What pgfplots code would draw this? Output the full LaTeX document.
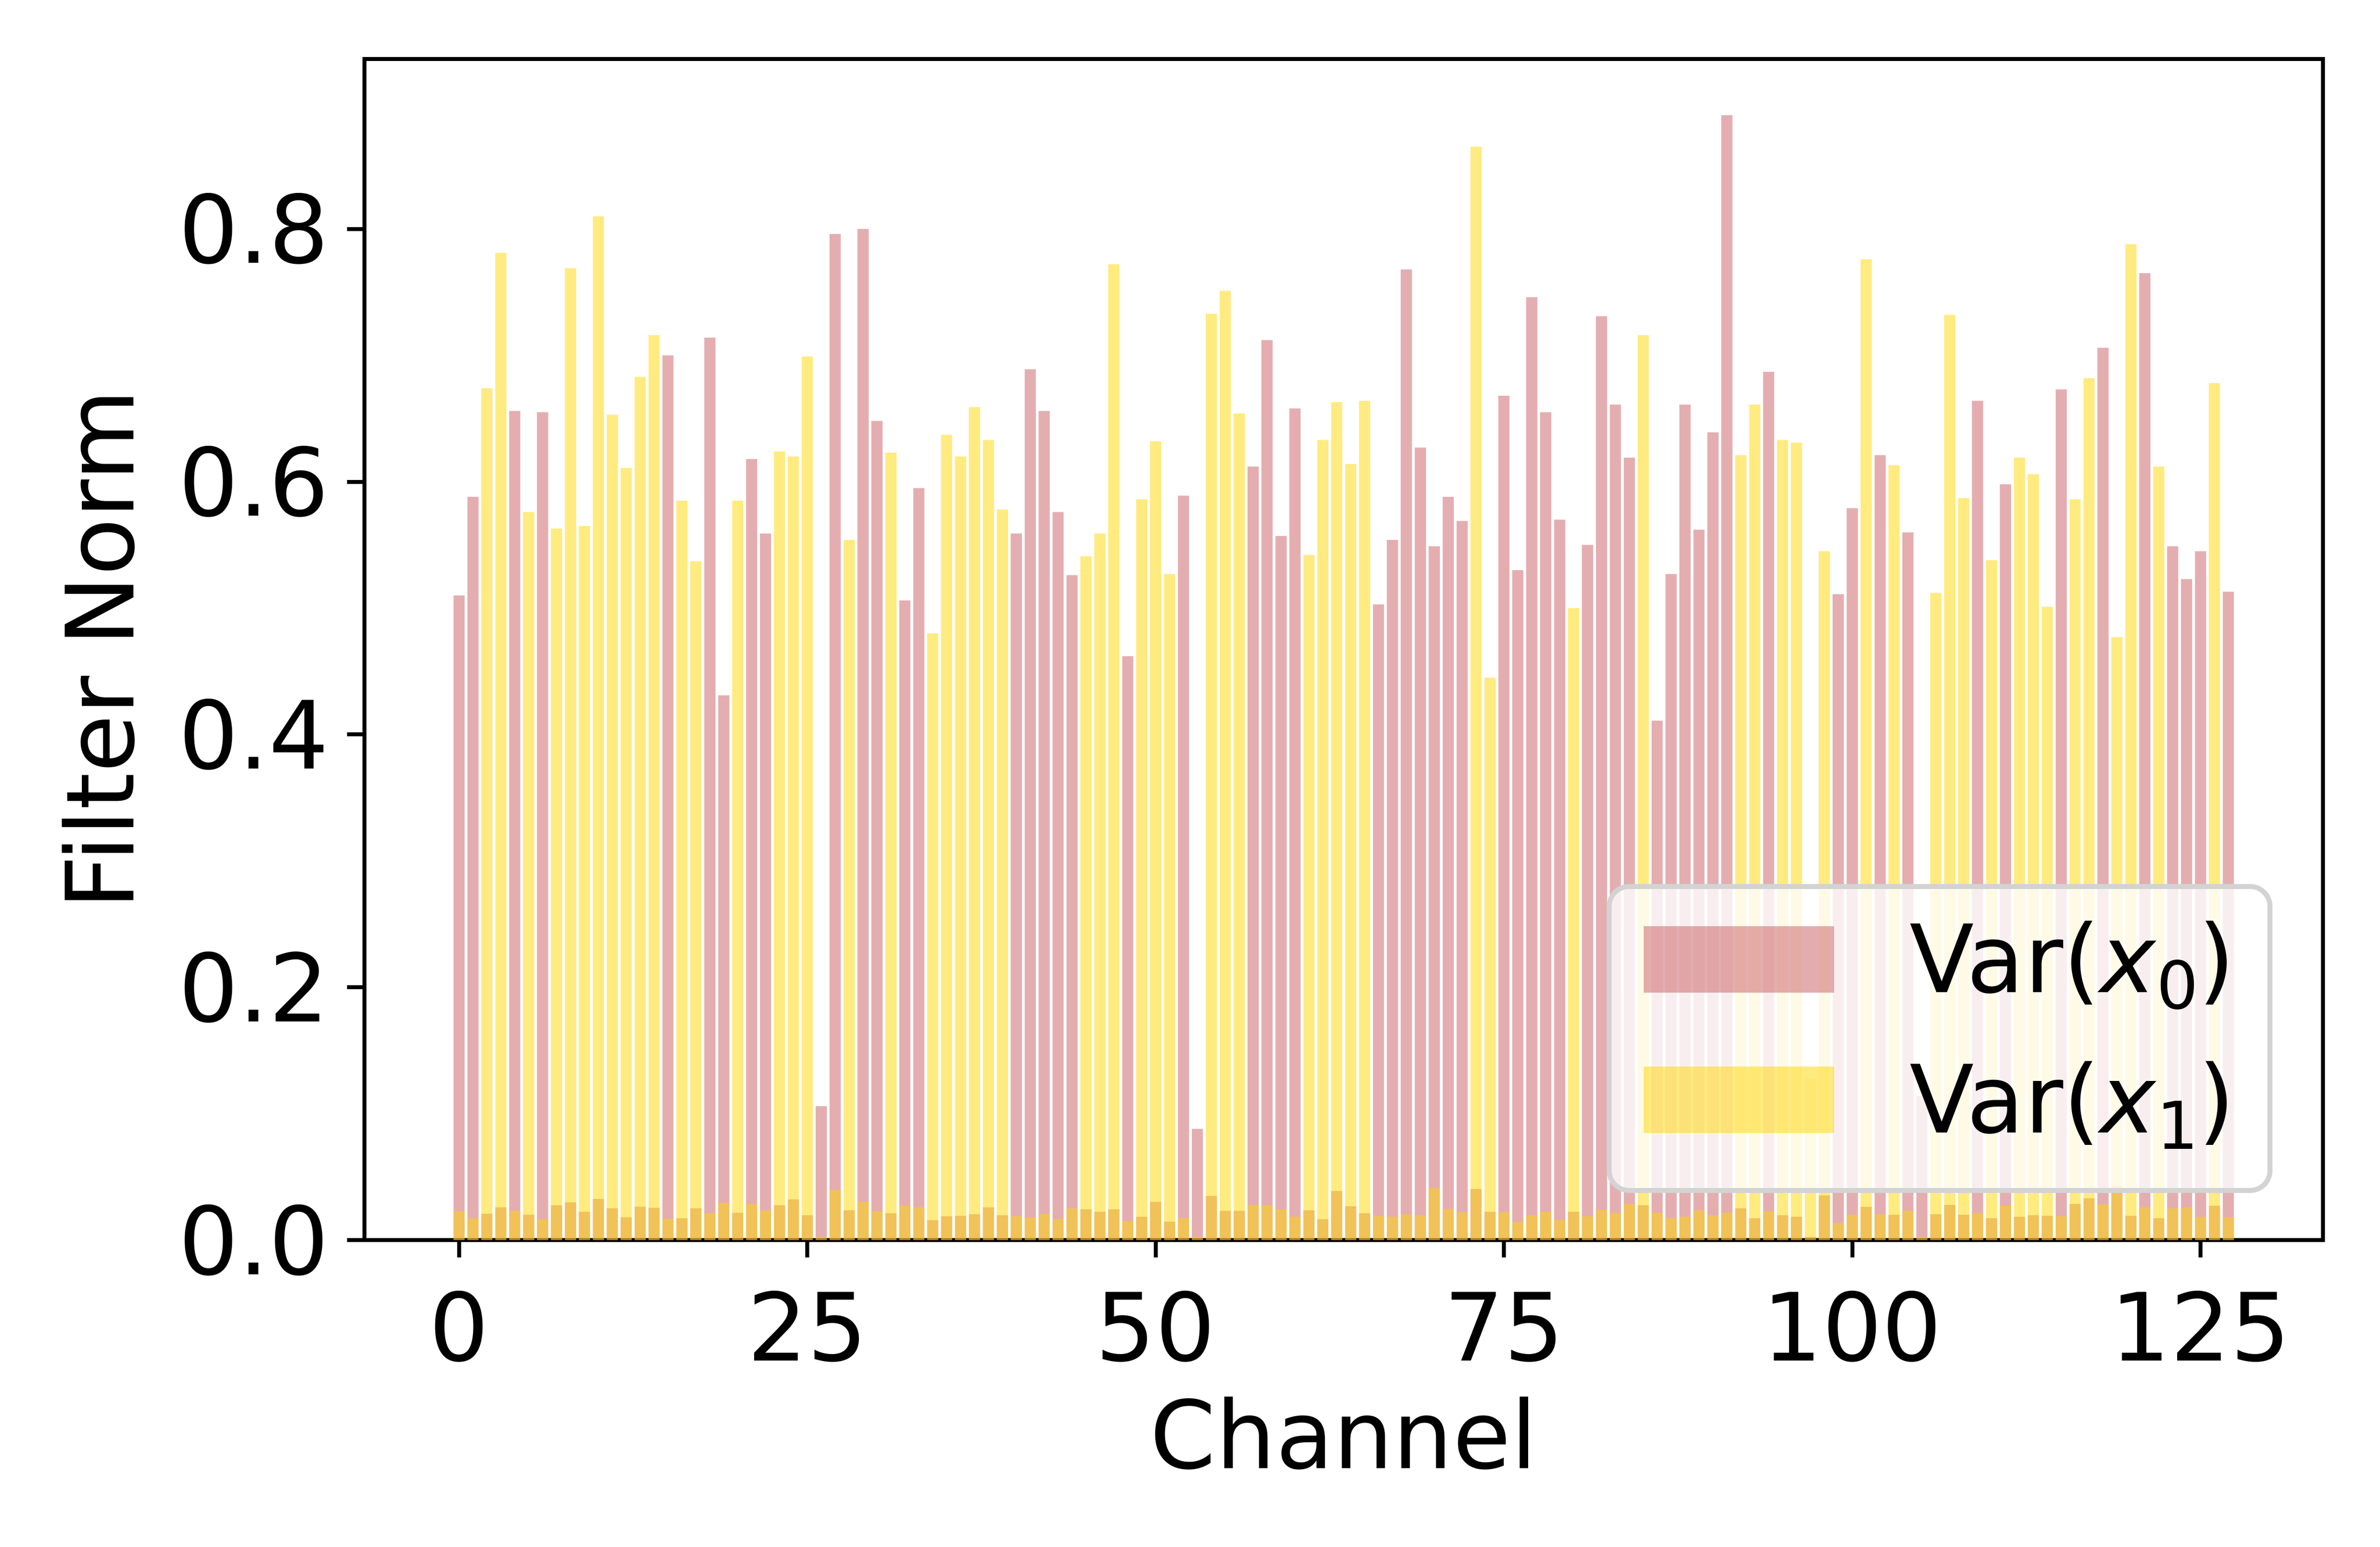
\documentclass[border=0pt]{standalone}
\usepackage{pgfplots}
\usepackage{pgfplotstable}
\pgfplotsset{compat=1.18}
\usepackage{fontspec}
\setmainfont{DejaVu Sans}
\definecolor{pinkc}{RGB}{201,93,97}
\definecolor{goldc}{RGB}{255,215,0}
\definecolor{legframe}{RGB}{211,211,211}

\pgfplotstableread{
ch v0 v1
0 0.510 0.0227
1 0.588 0.0173
2 0.0208 0.674
3 0.0259 0.781
4 0.656 0.0231
5 0.0200 0.576
6 0.655 0.0165
7 0.0275 0.563
8 0.0298 0.769
9 0.0224 0.565
10 0.0325 0.810
11 0.0251 0.653
12 0.0180 0.611
13 0.0263 0.683
14 0.0255 0.716
15 0.700 0.0169
16 0.0173 0.585
17 0.0251 0.537
18 0.714 0.0212
19 0.431 0.0294
20 0.0216 0.585
21 0.618 0.0286
22 0.559 0.0235
23 0.0275 0.624
24 0.0322 0.620
25 0.0196 0.699
26 0.106 0.0024
27 0.796 0.0396
28 0.0235 0.554
29 0.800 0.0302
30 0.648 0.0227
31 0.0212 0.623
32 0.506 0.0271
33 0.595 0.0260
34 0.0157 0.480
35 0.0188 0.637
36 0.0192 0.620
37 0.0204 0.659
38 0.0259 0.633
39 0.0196 0.578
40 0.559 0.0188
41 0.689 0.0180
42 0.656 0.0207
43 0.576 0.0167
44 0.526 0.0251
45 0.0243 0.541
46 0.0224 0.559
47 0.0243 0.772
48 0.462 0.0149
49 0.0184 0.586
50 0.0302 0.632
51 0.0145 0.527
52 0.589 0.0175
53 0.088 0.0024
54 0.0349 0.733
55 0.0231 0.751
56 0.0231 0.654
57 0.612 0.0277
58 0.712 0.0275
59 0.557 0.0243
60 0.658 0.0184
61 0.0235 0.542
62 0.0165 0.633
63 0.0388 0.663
64 0.0267 0.614
65 0.0212 0.664
66 0.503 0.0191
67 0.554 0.0184
68 0.768 0.0204
69 0.627 0.0196
70 0.549 0.0412
71 0.588 0.0246
72 0.569 0.0220
73 0.0404 0.865
74 0.0224 0.445
75 0.668 0.0220
76 0.530 0.0145
77 0.746 0.0196
78 0.655 0.0224
79 0.570 0.0159
80 0.0224 0.500
81 0.550 0.0188
82 0.731 0.0239
83 0.661 0.0216
84 0.619 0.0286
85 0.0275 0.716
86 0.411 0.0216
87 0.527 0.0173
88 0.661 0.0184
89 0.562 0.0235
90 0.639 0.0196
91 0.890 0.0216
92 0.0251 0.621
93 0.0173 0.661
94 0.687 0.0227
95 0.0196 0.633
96 0.0184 0.631
97 0.0024 0.128
98 0.0353 0.545
99 0.511 0.0133
100 0.579 0.0200
101 0.0263 0.776
102 0.621 0.0204
103 0.0200 0.613
104 0.560 0.0231
105 0.114 0.0024
106 0.0204 0.512
107 0.0278 0.732
108 0.0200 0.587
109 0.664 0.0212
110 0.0173 0.538
111 0.598 0.0271
112 0.0184 0.619
113 0.0196 0.606
114 0.0192 0.501
115 0.673 0.0188
116 0.0286 0.586
117 0.0331 0.682
118 0.706 0.0282
119 0.0427 0.477
120 0.0192 0.788
121 0.765 0.0259
122 0.0173 0.612
123 0.549 0.0251
124 0.523 0.0259
125 0.545 0.0184
126 0.0271 0.678
127 0.513 0.0180
}\datatable

\begin{document}
\begin{tikzpicture}
\path[use as bounding box] (0,0) rectangle (480pt,312pt);
\begin{axis}[
  at={(73.5pt,61.9pt)}, anchor=south west,
  scale only axis, width=395pt, height=238.2pt,
  xmin=-6.79, xmax=133.79, ymin=0, ymax=0.9345,
  xtick={0,25,50,75,100,125},
  ytick={0,0.2,0.4,0.6,0.8},
  tick pos=left,
  tick align=outside,
  major tick length=3.5pt,
  tick style={black, line width=0.8pt},
  axis line style={black, line width=0.8pt},
  /pgf/number format/assume math mode=true,
  tick label style={font=\fontsize{19}{23}\selectfont},
  yticklabel style={/pgf/number format/fixed, /pgf/number format/fixed zerofill, /pgf/number format/precision=1, inner sep=0pt, anchor=east, xshift=-3.5pt},
  xticklabel style={inner sep=0pt, anchor=base, yshift=-20.9pt},
  label style={font=\fontsize{19}{23}\selectfont},
  xlabel={Channel},
  ylabel={Filter Norm},
  xlabel style={at={(axis description cs:0.5,0)}, anchor=base, yshift=-46.1pt, inner sep=0pt},
  ylabel style={at={(axis description cs:-0.1357,0.5)}, anchor=center, inner sep=0pt},
  legend cell align=left,
  legend style={at={(0.9742,0.0399)}, anchor=south east,
    draw=legframe, line width=1pt, fill=white, fill opacity=0.8, draw opacity=1, text opacity=1,
    rounded corners=4pt, inner xsep=7pt, inner ysep=7pt, row sep=9.3pt,
    font=\fontsize{19}{23}\selectfont,
    nodes={inner sep=0pt, text height=14.4pt, text depth=4.6pt},
    /tikz/every odd column/.append style={column sep=15.2pt}},
]
\addplot[ybar, bar width=0.8, bar shift=0pt, fill=pinkc, fill opacity=0.5, draw=none,
  legend image code/.code={\fill[pinkc, fill opacity=0.5, sharp corners] (0pt,-4.9pt) rectangle (38.4pt,8.5pt);}]
  table[x=ch, y=v0] {\datatable};
\addlegendentry{Var(\textit{x}\raisebox{-3.3pt}{\fontsize{13.3}{13.3}\selectfont 0})}
\addplot[ybar, bar width=0.8, bar shift=0pt, fill=goldc, fill opacity=0.5, draw=none,
  legend image code/.code={\fill[goldc, fill opacity=0.5, sharp corners] (0pt,-4.9pt) rectangle (38.4pt,8.5pt);}]
  table[x=ch, y=v1] {\datatable};
\addlegendentry{Var(\textit{x}\raisebox{-3.3pt}{\fontsize{13.3}{13.3}\selectfont 1})}
\end{axis}
\end{tikzpicture}
\end{document}
